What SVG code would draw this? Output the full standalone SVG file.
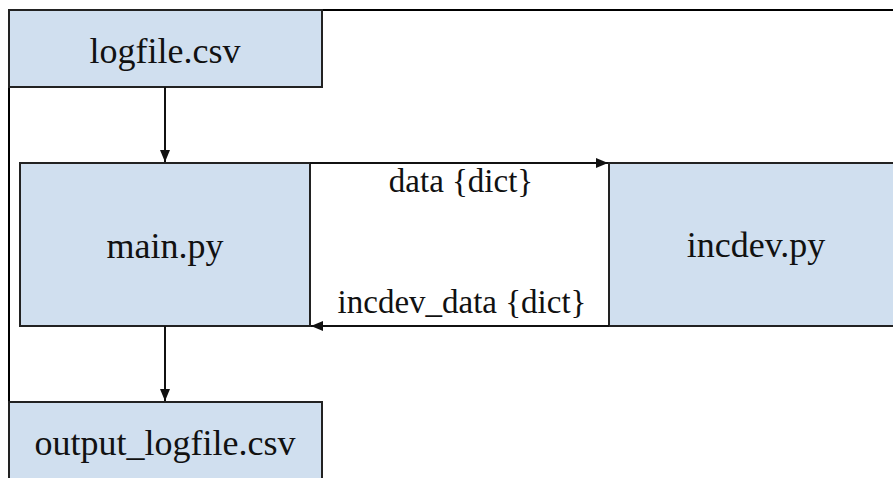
<svg xmlns="http://www.w3.org/2000/svg" width="893" height="478" viewBox="0 0 893 478">
<style>
.node{fill:#d0dfef;stroke:#222;stroke-width:2}
.frame{fill:none;stroke:#000;stroke-width:2}
.edge{fill:none;stroke:#111;stroke-width:2}
text{font-family:'Liberation Serif','Times New Roman',serif;fill:#111;text-anchor:middle}
.t{font-size:36px}
.l{font-size:33px}
</style>
<defs>
<marker id="ah" viewBox="0 0 12 10" refX="12" refY="5" markerWidth="12" markerHeight="10" markerUnits="userSpaceOnUse" orient="auto">
<path d="M0,0 L12,5 L0,10 Z" fill="#111"/>
</marker>
</defs>
<rect width="893" height="478" fill="#fff"/>
<path class="frame" d="M9,478 L9,10 L893,10"/>
<g id="logfile">
<rect class="node" x="9" y="10" width="313" height="77"/>
<text class="t" x="165" y="63">logfile.csv</text>
</g>
<g id="main">
<rect class="node" x="20" y="163" width="290" height="163"/>
<text class="t" x="165" y="258">main.py</text>
</g>
<g id="incdev">
<rect class="node" x="609" y="163" width="300" height="163"/>
<text class="t" x="756" y="257">incdev.py</text>
</g>
<g id="output">
<rect class="node" x="9" y="402" width="313" height="90"/>
<text class="t" x="165" y="455">output_logfile.csv</text>
</g>
<g id="connectors">
<line class="edge" x1="165" y1="87" x2="165" y2="162" marker-end="url(#ah)"/>
<line class="edge" x1="310" y1="163" x2="608" y2="163" marker-end="url(#ah)"/>
<line class="edge" x1="609" y1="326" x2="311" y2="326" marker-end="url(#ah)"/>
<line class="edge" x1="165" y1="326" x2="165" y2="401" marker-end="url(#ah)"/>
<text class="l" x="461" y="192">data {dict}</text>
<text class="l" x="462" y="313">incdev_data {dict}</text>
</g>
</svg>
